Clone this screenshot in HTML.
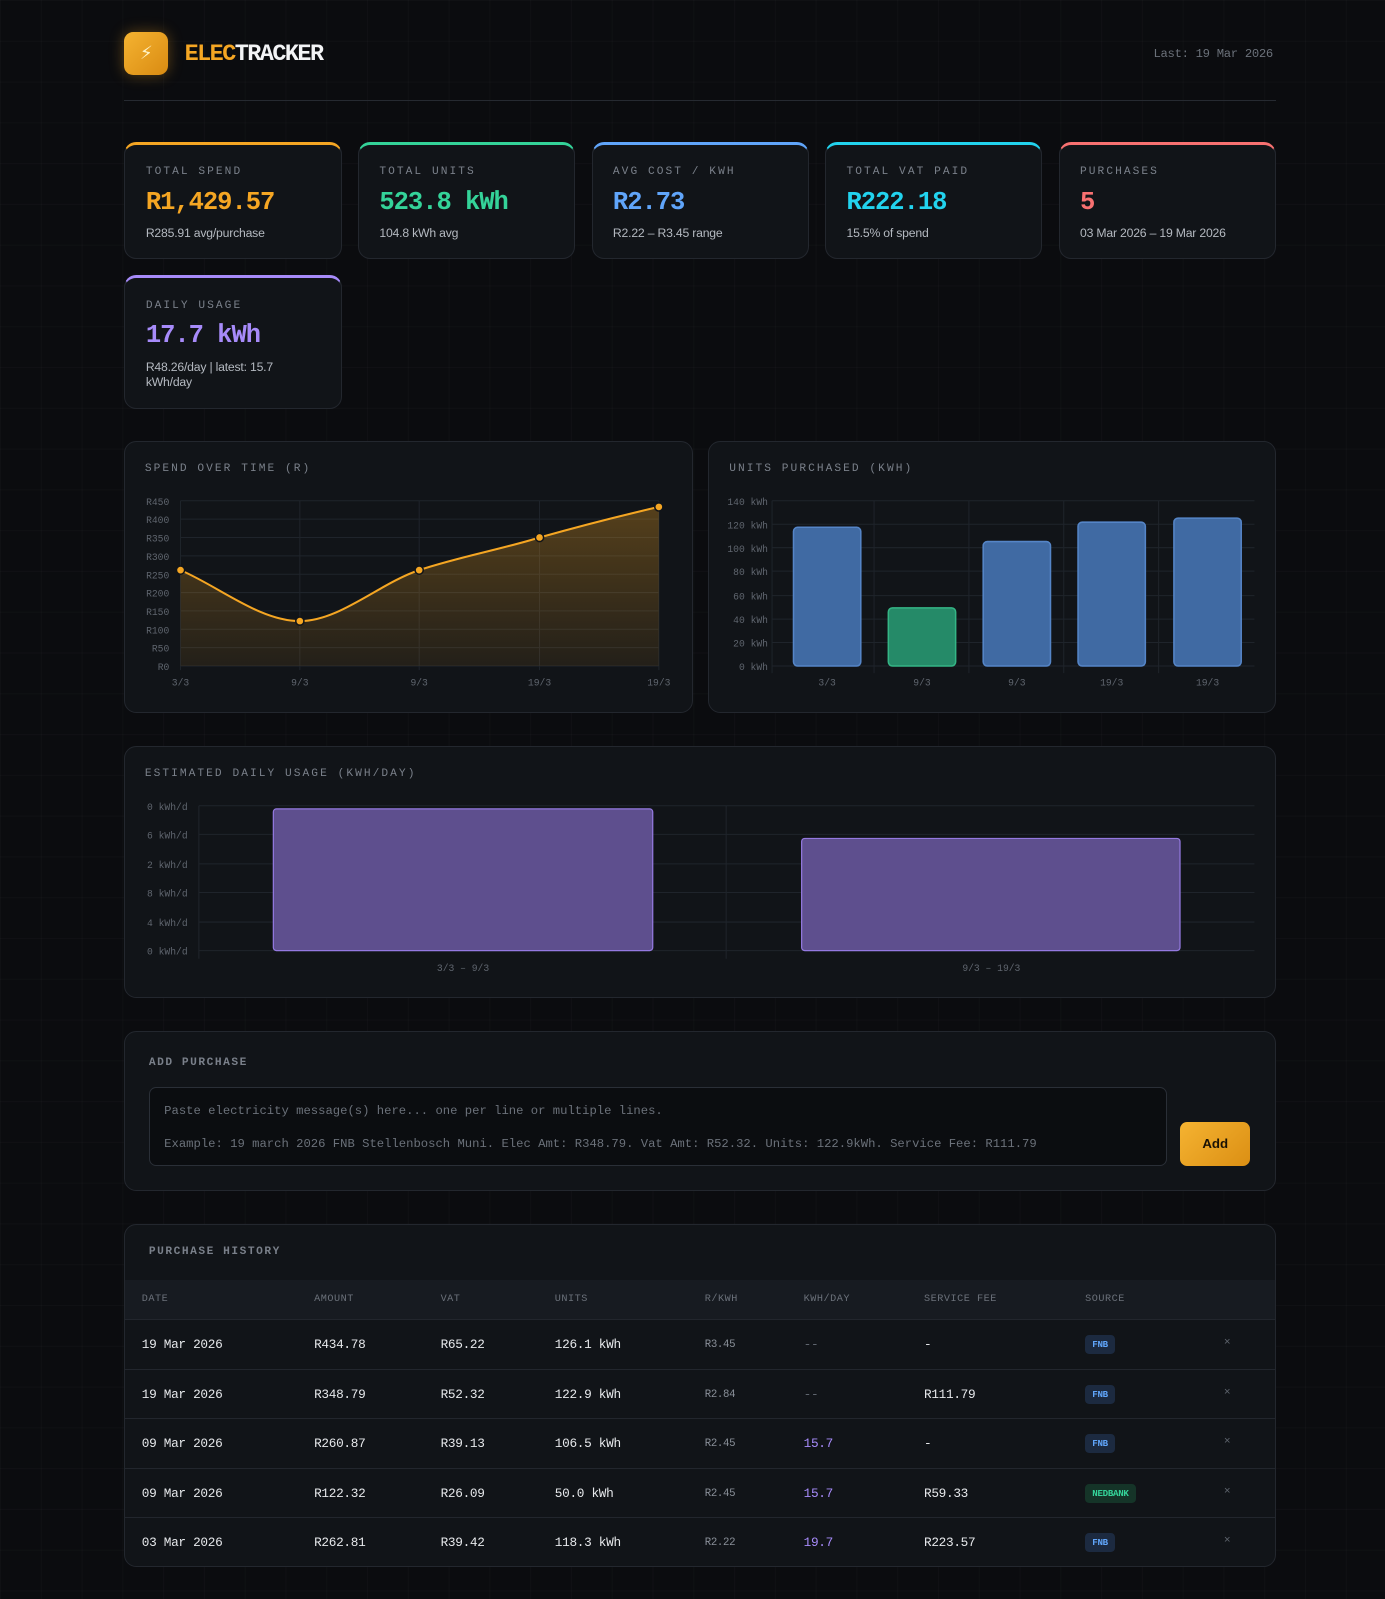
<!DOCTYPE html>
<html><head><meta charset="utf-8"><style>
html,body{margin:0;padding:0;background:#0b0c0f;}
body{width:1385px;height:1599px;overflow:hidden;}
#w{zoom:1.0199;width:1358px;height:1568px;position:relative;font-family:"Liberation Mono",monospace;color:#e6e8eb;
background-image:linear-gradient(rgba(255,255,255,0.018) 1px,transparent 1px),linear-gradient(90deg,rgba(255,255,255,0.018) 1px,transparent 1px);background-size:40px 40px;}
.a{position:absolute;}
.card{position:absolute;background:#111418;border:1px solid #23272e;border-radius:12px;box-sizing:border-box;}
.lbl{font-size:11px;letter-spacing:2px;color:#7a808a;}
.val{font-size:25px;font-weight:bold;letter-spacing:-1px;}
.sub{font-family:"Liberation Sans",sans-serif;font-size:12px;color:#b4b9c0;letter-spacing:-0.2px;}
.stat .lbl{position:absolute;left:20px;top:21px}
.stat .val{position:absolute;left:20px;top:42px}
.stat .sub{position:absolute;left:20px;top:80px}
.ax{font-size:9.5px;fill:#5f656e;font-family:"Liberation Mono",monospace}
.tb{position:absolute;left:0;width:1128px;height:48px;border-top:1px solid #22262d;}
.tb span{position:absolute;top:17px;font-size:12.5px;letter-spacing:-0.3px;}
.tb span.r{font-size:10.5px;color:#8a9099;top:19px}
.badge{font-size:9px!important;padding:4px 7px;border-radius:4px;top:15px!important;font-weight:bold}
</style></head><body><div id="w">
<div class="a" style="left:122px;top:31px;width:43px;height:43px;border-radius:9px;background:linear-gradient(135deg,#f5b331,#d98b12);box-shadow:0 0 14px rgba(245,166,35,0.35);color:#fff3c4;font-size:18px;text-align:center;line-height:43px;font-family:'DejaVu Sans',sans-serif">⚡</div>
<div class="a" style="left:181px;top:40px;font-size:23px;font-weight:bold;letter-spacing:-1.5px"><span style="color:#f5a623">ELEC</span><span style="color:#f3f4f6">TRACKER</span></div>
<div class="a" style="left:1131px;top:46px;font-size:12px;color:#6b717a;letter-spacing:-0.3px">Last: 19 Mar 2026</div>
<div class="a" style="left:122px;top:98px;width:1129px;height:1px;background:#262a31"></div>

<div class="card stat" style="left:122px;top:139px;width:213px;height:115px;border-top:3px solid #f5a623"><div class="lbl">TOTAL SPEND</div><div class="val" style="color:#f5a623">R1,429.57</div><div class="sub">R285.91 avg/purchase</div></div>
<div class="card stat" style="left:351px;top:139px;width:213px;height:115px;border-top:3px solid #34d399"><div class="lbl">TOTAL UNITS</div><div class="val" style="color:#34d399">523.8 kWh</div><div class="sub">104.8 kWh avg</div></div>
<div class="card stat" style="left:580px;top:139px;width:213px;height:115px;border-top:3px solid #60a5fa"><div class="lbl">AVG COST / KWH</div><div class="val" style="color:#60a5fa">R2.73</div><div class="sub">R2.22 – R3.45 range</div></div>
<div class="card stat" style="left:809px;top:139px;width:213px;height:115px;border-top:3px solid #22d3ee"><div class="lbl">TOTAL VAT PAID</div><div class="val" style="color:#22d3ee">R222.18</div><div class="sub">15.5% of spend</div></div>
<div class="card stat" style="left:1038px;top:139px;width:213px;height:115px;border-top:3px solid #f87171"><div class="lbl">PURCHASES</div><div class="val" style="color:#f87171">5</div><div class="sub">03 Mar 2026 – 19 Mar 2026</div></div>
<div class="card stat" style="left:122px;top:270px;width:213px;height:131px;border-top:3px solid #a78bfa"><div class="lbl">DAILY USAGE</div><div class="val" style="color:#a78bfa">17.7 kWh</div><div class="sub" style="width:150px;line-height:15px">R48.26/day | latest: 15.7 kWh/day</div></div>

<div class="card" style="left:122px;top:432px;width:557px;height:267px"></div>
<div class="a lbl" style="left:142px;top:454px">SPEND OVER TIME (R)</div>
<svg class="a" style="left:0;top:0" width="1358" height="1000">
<defs><linearGradient id="g" x1="0" y1="0" x2="0" y2="1"><stop offset="0" stop-color="#f5a623" stop-opacity="0.3"/><stop offset="1" stop-color="#f5a623" stop-opacity="0.08"/></linearGradient></defs>
<g stroke="#1f242b" stroke-width="1">
<line x1="177" x2="646" y1="491" y2="491"/><line x1="177" x2="646" y1="509" y2="509"/><line x1="177" x2="646" y1="527" y2="527"/><line x1="177" x2="646" y1="545" y2="545"/><line x1="177" x2="646" y1="563" y2="563"/><line x1="177" x2="646" y1="581" y2="581"/><line x1="177" x2="646" y1="599" y2="599"/><line x1="177" x2="646" y1="617" y2="617"/><line x1="177" x2="646" y1="635" y2="635"/><line x1="177" x2="646" y1="653" y2="653"/>
<line x1="177" x2="177" y1="491" y2="657"/><line x1="294" x2="294" y1="491" y2="657"/><line x1="411" x2="411" y1="491" y2="657"/><line x1="529" x2="529" y1="491" y2="657"/><line x1="646" x2="646" y1="491" y2="657"/>
</g>
<g class="ax" text-anchor="end"><text x="166" y="495">R450</text><text x="166" y="513">R400</text><text x="166" y="531">R350</text><text x="166" y="549">R300</text><text x="166" y="567">R250</text><text x="166" y="585">R200</text><text x="166" y="603">R150</text><text x="166" y="621">R100</text><text x="166" y="639">R50</text><text x="166" y="657">R0</text></g>
<g class="ax" text-anchor="middle"><text x="177" y="672">3/3</text><text x="294" y="672">9/3</text><text x="411" y="672">9/3</text><text x="529" y="672">19/3</text><text x="646" y="672">19/3</text></g>
<path d="M177,559 C216,576 255,609 294,609 C333,609 372,572 411,559 C450,546 490,539 529,527 C568,516 607,506 646,497 L646,653 L177,653 Z" fill="url(#g)"/>
<path d="M177,559 C216,576 255,609 294,609 C333,609 372,572 411,559 C450,546 490,539 529,527 C568,516 607,506 646,497" fill="none" stroke="#f5a623" stroke-width="2"/>
<g fill="#f5a623" stroke="#111418" stroke-width="1.5"><circle cx="177" cy="559" r="4"/><circle cx="294" cy="609" r="4"/><circle cx="411" cy="559" r="4"/><circle cx="529" cy="527" r="4"/><circle cx="646" cy="497" r="4"/></g>
</svg>

<div class="card" style="left:694px;top:432px;width:557px;height:267px"></div>
<div class="a lbl" style="left:715px;top:454px">UNITS PURCHASED (KWH)</div>
<svg class="a" style="left:0;top:0" width="1358" height="1000">
<g stroke="#1f242b" stroke-width="1">
<line x1="757" x2="1230" y1="491" y2="491"/><line x1="757" x2="1230" y1="514" y2="514"/><line x1="757" x2="1230" y1="537" y2="537"/><line x1="757" x2="1230" y1="560" y2="560"/><line x1="757" x2="1230" y1="584" y2="584"/><line x1="757" x2="1230" y1="607" y2="607"/><line x1="757" x2="1230" y1="630" y2="630"/><line x1="757" x2="1230" y1="653" y2="653"/>
<line x1="757" x2="757" y1="491" y2="660"/><line x1="857" x2="857" y1="491" y2="660"/><line x1="950" x2="950" y1="491" y2="660"/><line x1="1043" x2="1043" y1="491" y2="660"/><line x1="1136" x2="1136" y1="491" y2="660"/>
</g>
<g class="ax" text-anchor="end"><text x="753" y="495">140 kWh</text><text x="753" y="518">120 kWh</text><text x="753" y="541">100 kWh</text><text x="753" y="564">80 kWh</text><text x="753" y="588">60 kWh</text><text x="753" y="611">40 kWh</text><text x="753" y="634">20 kWh</text><text x="753" y="657">0 kWh</text></g>
<g class="ax" text-anchor="middle"><text x="811" y="672">3/3</text><text x="904" y="672">9/3</text><text x="997" y="672">9/3</text><text x="1090" y="672">19/3</text><text x="1184" y="672">19/3</text></g>
<g stroke-width="1.5"><rect x="778" y="517" width="66" height="136" rx="4" fill="#406aa3" stroke="#5585c7"/><rect x="871" y="596" width="66" height="57" rx="4" fill="#258a68" stroke="#34b585"/><rect x="964" y="531" width="66" height="122" rx="4" fill="#406aa3" stroke="#5585c7"/><rect x="1057" y="512" width="66" height="141" rx="4" fill="#406aa3" stroke="#5585c7"/><rect x="1151" y="508" width="66" height="145" rx="4" fill="#406aa3" stroke="#5585c7"/></g>
</svg>

<div class="card" style="left:122px;top:731px;width:1129px;height:248px"></div>
<div class="a lbl" style="left:142px;top:753px">ESTIMATED DAILY USAGE (KWH/DAY)</div>
<svg class="a" style="left:0;top:700px" width="1358" height="300">
<g stroke="#1f242b" stroke-width="1">
<line x1="195" x2="1230" y1="90" y2="90"/><line x1="195" x2="1230" y1="118" y2="118"/><line x1="195" x2="1230" y1="147" y2="147"/><line x1="195" x2="1230" y1="175" y2="175"/><line x1="195" x2="1230" y1="204" y2="204"/><line x1="195" x2="1230" y1="232" y2="232"/>
<line x1="195" x2="195" y1="90" y2="240"/><line x1="712" x2="712" y1="90" y2="240"/>
</g>
<g class="ax" text-anchor="end"><text x="184" y="94">0 kWh/d</text><text x="184" y="122">6 kWh/d</text><text x="184" y="151">2 kWh/d</text><text x="184" y="179">8 kWh/d</text><text x="184" y="208">4 kWh/d</text><text x="184" y="236">0 kWh/d</text></g>
<g class="ax" text-anchor="middle"><text x="454" y="252">3/3 – 9/3</text><text x="972" y="252">9/3 – 19/3</text></g>
<rect x="268" y="93" width="372" height="139" rx="3" fill="#5e4f8e" stroke="#9479e0" stroke-width="1.2"/>
<rect x="786" y="122" width="371" height="110" rx="3" fill="#5e4f8e" stroke="#9479e0" stroke-width="1.2"/>
</svg>

<div class="card" style="left:122px;top:1011px;width:1129px;height:157px"></div>
<div class="a lbl" style="left:146px;top:1036px;font-weight:bold;letter-spacing:1.5px">ADD PURCHASE</div>
<div class="a" style="left:146px;top:1066px;width:998px;height:77px;background:#0b0d10;border:1px solid #2a2f37;border-radius:7px;box-sizing:border-box;font-size:12px;color:#6b717a">
<div class="a" style="left:14px;top:15px">Paste electricity message(s) here... one per line or multiple lines.</div>
<div class="a" style="left:14px;top:48px">Example: 19 march 2026 FNB Stellenbosch Muni. Elec Amt: R348.79. Vat Amt: R52.32. Units: 122.9kWh. Service Fee: R111.79</div></div>
<div class="a" style="left:1157px;top:1100px;width:69px;height:43px;border-radius:7px;background:linear-gradient(135deg,#f5b331,#db8f14);color:#1a1205;font-weight:bold;font-size:13px;text-align:center;line-height:43px;font-family:'Liberation Sans',sans-serif">Add</div>

<div class="card" style="left:122px;top:1200px;width:1129px;height:336px;overflow:hidden">
<div class="a lbl" style="left:23px;top:21px;font-weight:bold;letter-spacing:1.5px">PURCHASE HISTORY</div>
<div class="a" style="left:0;top:54px;width:1128px;height:38px;background:#171b21;font-size:10px;letter-spacing:0.5px;color:#6b717a">
<span class="a" style="left:16px;top:14px">DATE</span><span class="a" style="left:185px;top:14px">AMOUNT</span><span class="a" style="left:309px;top:14px">VAT</span><span class="a" style="left:421px;top:14px">UNITS</span><span class="a" style="left:568px;top:14px">R/KWH</span><span class="a" style="left:665px;top:14px">KWH/DAY</span><span class="a" style="left:783px;top:14px">SERVICE FEE</span><span class="a" style="left:941px;top:14px">SOURCE</span></div>
<div class="tb" style="top:92px"><span style="left:16px">19 Mar 2026</span><span style="left:185px">R434.78</span><span style="left:309px">R65.22</span><span style="left:421px">126.1 kWh</span><span class="r" style="left:568px">R3.45</span><span style="left:665px;color:#5f656e">--</span><span style="left:783px">-</span><span class="badge" style="left:941px;background:#1c2a40;color:#60a5fa">FNB</span><span style="left:1077px;color:#5f656e;font-size:11px">×</span></div>
<div class="tb" style="top:141px"><span style="left:16px">19 Mar 2026</span><span style="left:185px">R348.79</span><span style="left:309px">R52.32</span><span style="left:421px">122.9 kWh</span><span class="r" style="left:568px">R2.84</span><span style="left:665px;color:#5f656e">--</span><span style="left:783px">R111.79</span><span class="badge" style="left:941px;background:#1c2a40;color:#60a5fa">FNB</span><span style="left:1077px;color:#5f656e;font-size:11px">×</span></div>
<div class="tb" style="top:189px"><span style="left:16px">09 Mar 2026</span><span style="left:185px">R260.87</span><span style="left:309px">R39.13</span><span style="left:421px">106.5 kWh</span><span class="r" style="left:568px">R2.45</span><span style="left:665px;color:#a78bfa">15.7</span><span style="left:783px">-</span><span class="badge" style="left:941px;background:#1c2a40;color:#60a5fa">FNB</span><span style="left:1077px;color:#5f656e;font-size:11px">×</span></div>
<div class="tb" style="top:238px"><span style="left:16px">09 Mar 2026</span><span style="left:185px">R122.32</span><span style="left:309px">R26.09</span><span style="left:421px">50.0 kWh</span><span class="r" style="left:568px">R2.45</span><span style="left:665px;color:#a78bfa">15.7</span><span style="left:783px">R59.33</span><span class="badge" style="left:941px;background:#153428;color:#34d399">NEDBANK</span><span style="left:1077px;color:#5f656e;font-size:11px">×</span></div>
<div class="tb" style="top:286px"><span style="left:16px">03 Mar 2026</span><span style="left:185px">R262.81</span><span style="left:309px">R39.42</span><span style="left:421px">118.3 kWh</span><span class="r" style="left:568px">R2.22</span><span style="left:665px;color:#a78bfa">19.7</span><span style="left:783px">R223.57</span><span class="badge" style="left:941px;background:#1c2a40;color:#60a5fa">FNB</span><span style="left:1077px;color:#5f656e;font-size:11px">×</span></div>
</div>
</div></body></html>
